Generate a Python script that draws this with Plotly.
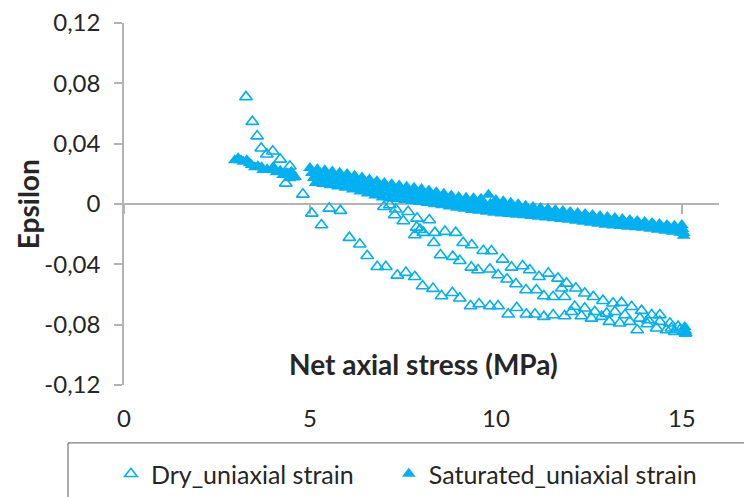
import plotly.graph_objects as go

# ---------------- data ----------------
dry_x = [3.28, 3.45, 3.58, 3.69, 3.84, 4.00, 4.04, 4.20, 4.35, 4.46, 4.57, 4.81, 5.05, 5.31, 5.52, 5.82,
         6.06, 6.34, 6.54, 6.81, 7.04, 7.35, 7.58, 7.82, 8.03, 8.31, 8.54, 8.83, 9.03, 9.32, 9.55, 9.84,
         10.06, 10.33, 10.56, 10.82, 11.05, 11.29, 11.54, 11.85, 12.03, 12.30, 12.57, 12.84, 13.05, 13.33,
         13.60, 13.80, 14.07, 14.32, 14.59, 14.81, 15.10,
         6.99, 7.15, 7.31, 7.64, 7.88, 7.96, 8.21, 8.63, 8.92, 9.12, 9.35, 9.66, 9.88, 10.18, 10.42, 10.72,
         10.91, 11.16, 11.41, 11.67, 11.90, 12.15, 12.39, 12.62, 12.88, 13.15, 13.38, 13.65, 13.92, 14.19,
         14.41, 14.68, 14.90,
         7.28, 7.51, 7.87, 7.82, 8.05, 8.36, 8.33, 8.51, 8.84, 9.03, 9.34, 9.52, 9.84, 10.06, 10.30, 10.54,
         10.81, 11.09, 11.29, 11.54, 11.77, 11.85, 12.12, 12.39, 12.66, 12.98, 13.20, 13.47, 13.87, 14.09,
         14.41, 14.72, 14.95, 15.05]
dry_y = [0.0710, 0.0546, 0.0450, 0.0370, 0.0330, 0.0350, 0.0230, 0.0296, 0.0137, 0.0250, 0.0180, 0.0064,
         -0.0062, -0.0139, -0.0029, -0.0044,
         -0.0223, -0.0267, -0.0343, -0.0416, -0.0416, -0.0473, -0.0455, -0.0482, -0.0544, -0.0561, -0.0610,
         -0.0588, -0.0625, -0.0676, -0.0663, -0.0676, -0.0676, -0.0731, -0.0688, -0.0731, -0.0731, -0.0747,
         -0.0736, -0.0743, -0.0714, -0.0743, -0.0758, -0.0747, -0.0780, -0.0791, -0.0780, -0.0835, -0.0796,
         -0.0824, -0.0835, -0.0847, -0.0857,
         -0.0018, -0.0007, -0.0035, -0.0051, -0.0095, -0.0170, -0.0106, -0.0183, -0.0190, -0.0257, -0.0272,
         -0.0310, -0.0312, -0.0367, -0.0420, -0.0411, -0.0438, -0.0482, -0.0460, -0.0493, -0.0526, -0.0559,
         -0.0592, -0.0615, -0.0641, -0.0658, -0.0654, -0.0681, -0.0707, -0.0736, -0.0736, -0.0791, -0.0813,
         -0.0073, -0.0113, -0.0155, -0.0206, -0.0190, -0.0190, -0.0257, -0.0338, -0.0349, -0.0376, -0.0420,
         -0.0438, -0.0433, -0.0471, -0.0499, -0.0530, -0.0570, -0.0570, -0.0610, -0.0615, -0.0559, -0.0615,
         -0.0680, -0.0691, -0.0714, -0.0725, -0.0714, -0.0736, -0.0758, -0.0769, -0.0780, -0.0824, -0.0835,
         -0.0845]

sat_x = [2.98, 3.07, 3.15, 3.21, 3.30, 3.38, 3.43, 3.52, 3.60, 3.70, 3.74, 3.85, 3.97, 4.01, 4.10, 4.20,
         4.28, 4.37, 4.45, 4.50, 4.60,
         5.00, 5.05, 5.10, 5.15, 5.20, 5.25, 5.30, 5.35, 5.40, 5.45, 5.50, 5.55, 5.60, 5.65, 5.70, 5.75,
         5.80, 5.85, 5.90, 5.95, 6.00, 6.05, 6.10, 6.15, 6.20, 6.25, 6.30, 6.35, 6.40, 6.45, 6.50, 6.55,
         6.60, 6.65, 6.70, 6.75, 6.80, 6.85, 6.90, 6.95, 7.00, 7.05, 7.10, 7.15, 7.20, 7.25, 7.30, 7.35,
         7.40, 7.45, 7.50, 7.55, 7.60, 7.65, 7.70, 7.75, 7.80, 7.85, 7.90, 7.95, 8.00, 8.05, 8.10, 8.15,
         8.20, 8.25, 8.30, 8.35, 8.40, 8.45, 8.50, 8.55, 8.60, 8.65, 8.70, 8.75, 8.80, 8.85, 8.90, 8.95,
         9.00, 9.05, 9.10, 9.15, 9.20, 9.25, 9.30, 9.35, 9.40, 9.45, 9.50, 9.55, 9.60, 9.65, 9.70, 9.75,
         9.80, 9.85, 9.90, 9.95, 10.00, 10.05, 10.10, 10.15, 10.20, 10.25, 10.30, 10.35, 10.40, 10.45,
         10.50, 10.55, 10.60, 10.65, 10.70, 10.75, 10.80, 10.85, 10.90, 10.95, 11.00, 11.05, 11.10, 11.15,
         11.20, 11.25, 11.30, 11.35, 11.40, 11.45, 11.50, 11.55, 11.60, 11.65, 11.70, 11.75, 11.80, 11.85,
         11.90, 11.95, 12.00, 12.05, 12.10, 12.15, 12.20, 12.25, 12.30, 12.35, 12.40, 12.45, 12.50, 12.55,
         12.60, 12.65, 12.70, 12.75, 12.80, 12.85, 12.90, 12.95, 13.00, 13.05, 13.10, 13.15, 13.20, 13.25,
         13.30, 13.35, 13.40, 13.45, 13.50, 13.55, 13.60, 13.65, 13.70, 13.75, 13.80, 13.85, 13.90, 13.95,
         14.00, 14.05, 14.10, 14.15, 14.20, 14.25, 14.30, 14.35, 14.40, 14.45, 14.50, 14.55, 14.60, 14.65,
         14.70, 14.75, 14.80, 14.85, 14.90, 14.95, 15.00, 15.02, 15.05, 15.05,
         15.08, 15.10, 15.10]
sat_y = [0.0290, 0.0303, 0.0290, 0.0280, 0.0290, 0.0270, 0.0259, 0.0243, 0.0250, 0.0243, 0.0225, 0.0230,
         0.0225, 0.0243, 0.0210, 0.0220, 0.0192, 0.0204, 0.0170, 0.0214, 0.0180,
         0.0239, 0.0206, 0.0173, 0.0140, 0.0231, 0.0198, 0.0165, 0.0132, 0.0223, 0.0190, 0.0157, 0.0124,
         0.0215, 0.0182, 0.0149, 0.0116, 0.0207, 0.0174, 0.0141, 0.0108, 0.0199, 0.0165, 0.0130, 0.0096,
         0.0187, 0.0152, 0.0118, 0.0083, 0.0175, 0.0140, 0.0105, 0.0070, 0.0163, 0.0128, 0.0092, 0.0056,
         0.0151, 0.0115, 0.0080, 0.0043, 0.0139, 0.0104, 0.0070, 0.0036, 0.0131, 0.0097, 0.0064, 0.0031,
         0.0123, 0.0090, 0.0058, 0.0025, 0.0115, 0.0084, 0.0051, 0.0020, 0.0108, 0.0076, 0.0045, 0.0014,
         0.0100, 0.0068, 0.0038, 0.0007, 0.0089, 0.0058, 0.0029, -0.0001, 0.0078, 0.0049, 0.0020, -0.0009,
         0.0068, 0.0039, 0.0011, -0.0017, 0.0057, 0.0029, 0.0002, -0.0025, 0.0046, 0.0020, -0.0005, -0.0032,
         0.0042, 0.0016, -0.0011, -0.0039, 0.0038, 0.0011, -0.0017, -0.0045, 0.0034, 0.0006, -0.0023,
         -0.0052, 0.0062, 0.0002, -0.0028, -0.0058, 0.0027, -0.0004, -0.0034, -0.0063, 0.0018, -0.0012,
         -0.0040, -0.0067, 0.0008, -0.0019, -0.0045, -0.0071, -0.0001, -0.0027, -0.0051, -0.0075, -0.0011,
         -0.0034, -0.0057, -0.0079, -0.0020, -0.0042, -0.0063, -0.0084, -0.0027, -0.0048, -0.0069, -0.0089,
         -0.0033, -0.0054, -0.0074, -0.0094, -0.0040, -0.0060, -0.0080, -0.0100, -0.0046, -0.0066, -0.0085,
         -0.0105, -0.0053, -0.0073, -0.0091, -0.0111, -0.0060, -0.0079, -0.0098, -0.0118, -0.0066, -0.0086,
         -0.0105, -0.0124, -0.0073, -0.0092, -0.0111, -0.0131, -0.0079, -0.0099, -0.0118, -0.0137, -0.0086,
         -0.0105, -0.0124, -0.0142, -0.0093, -0.0111, -0.0129, -0.0146, -0.0099, -0.0117, -0.0134, -0.0150,
         -0.0106, -0.0122, -0.0138, -0.0154, -0.0112, -0.0128, -0.0143, -0.0158, -0.0119, -0.0134, -0.0149,
         -0.0164, -0.0126, -0.0140, -0.0156, -0.0171, -0.0132, -0.0147, -0.0163, -0.0177, -0.0139, -0.0153,
         -0.0169, -0.0184, -0.0145, -0.0160, -0.0173, -0.0190, -0.0140, -0.0165, -0.0192, -0.0210,
         -0.0815, -0.0840, -0.0860]

y_ticks = [-0.12, -0.08, -0.04, 0, 0.04, 0.08, 0.12]
y_tick_text = ["-0,12", "-0,08", "-0,04", "0", "0,04", "0,08", "0,12"]
x_ticks = [0, 5, 10, 15]
x_tick_text = ["0", "5", "10", "15"]

BLUE = "#00B0F0"
TXT = "#262626"
AX = "#B3B3B3"
FONT = "Lato, 'Open Sans', sans-serif"

fig = go.Figure()
fig.add_trace(go.Scatter(
    x=dry_x, y=dry_y, mode="markers", name="Dry_uniaxial strain",
    marker=dict(symbol="triangle-up-open", size=11, color=BLUE, line=dict(width=1.6, color=BLUE)),
    legend="legend"))
fig.add_trace(go.Scatter(
    x=sat_x, y=sat_y, mode="markers", name="Saturated_uniaxial strain",
    marker=dict(symbol="triangle-up", size=12, color=BLUE, line=dict(width=0)),
    legend="legend2"))
# helper trace so the zero-line axis is drawn
fig.add_trace(go.Scatter(x=[None], y=[None], xaxis="x2", showlegend=False, hoverinfo="skip"))

# the page body adds an 8px offset, so the figure is 8px smaller than the window
fig.update_layout(
    width=744, height=489,
    margin=dict(l=116, r=33, t=15, b=112, autoexpand=False),
    paper_bgcolor="white", plot_bgcolor="white",
    font=dict(family=FONT, size=24, color=TXT),
    xaxis=dict(range=[0, 16], tickvals=x_ticks, ticktext=x_tick_text, showline=False,
               showgrid=False, zeroline=False, ticks="", ticklabelstandoff=17, automargin=False,
               ticklabeloverflow="allow", tickfont=dict(size=24, color=TXT)),
    xaxis2=dict(range=[0, 16], overlaying="x", anchor="free", position=0.5, side="bottom",
                tickvals=x_ticks, showticklabels=False, ticks="outside", ticklen=9,
                tickcolor=AX, tickwidth=1.5, showline=True, linecolor=AX, linewidth=1.5,
                showgrid=False, zeroline=False, layer="below traces", automargin=False),
    yaxis=dict(range=[-0.12, 0.12], tickvals=y_ticks, ticktext=y_tick_text, showline=True,
               linecolor=AX, linewidth=1.5, ticks="outside", ticklen=8, tickcolor=AX, tickwidth=1.5,
               showgrid=False, zeroline=False, ticklabelstandoff=9, automargin=False,
               ticklabeloverflow="allow", tickfont=dict(size=24, color=TXT), layer="below traces"),
    legend=dict(orientation="h", x=-0.022, xanchor="left", y=-0.246, yanchor="middle",
                font=dict(size=25, color=TXT), bgcolor="rgba(0,0,0,0)"),
    legend2=dict(orientation="h", x=0.445, xanchor="left", y=-0.246, yanchor="middle",
                 font=dict(size=25, color=TXT), bgcolor="rgba(0,0,0,0)"),
    shapes=[dict(type="rect", xref="paper", yref="paper", x0=-0.0941, x1=1.0504, y0=-0.16, y1=-0.36,
                 line=dict(color="#595959", width=1), fillcolor="rgba(0,0,0,0)", layer="below")],
    annotations=[
        dict(text="<b>Net axial stress (MPa)</b>", xref="paper", yref="paper", x=0.504, y=0.058,
             xanchor="center", yanchor="middle", showarrow=False, font=dict(size=28, color=TXT)),
        dict(text="<b>Epsilon</b>", xref="paper", yref="paper", x=-0.161, y=0.5, textangle=-90,
             xanchor="center", yanchor="middle", showarrow=False, font=dict(size=28, color=TXT)),
    ],
)

fig.write_html("out.html")
